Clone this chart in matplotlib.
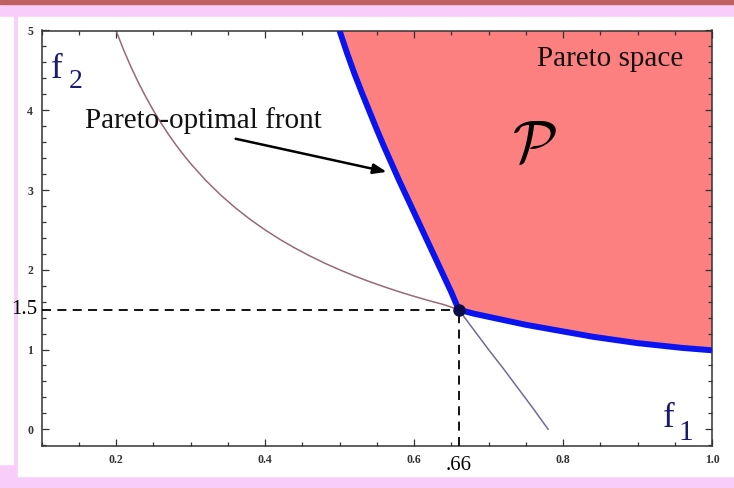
import numpy as np
import matplotlib.pyplot as plt
from matplotlib.patches import Rectangle
from matplotlib.ticker import MultipleLocator

# f1 / f2 trade-off curve (upper and lower branches)
curve_up_x = [0.20, 0.21, 0.22, 0.23, 0.24, 0.25, 0.26, 0.27, 0.28, 0.29, 0.30, 0.32, 0.34, 0.36,
              0.38, 0.40, 0.42, 0.44, 0.46, 0.48, 0.50, 0.52, 0.54, 0.56, 0.58, 0.60, 0.62, 0.64, 0.66]
curve_up_y = [5.000, 4.762, 4.545, 4.348, 4.167, 4.000, 3.846, 3.704, 3.571, 3.448, 3.333, 3.125,
              2.941, 2.778, 2.632, 2.500, 2.381, 2.273, 2.174, 2.083, 2.000, 1.923, 1.852, 1.786,
              1.724, 1.667, 1.613, 1.563, 1.500]
curve_lo_x = [0.660, 0.680, 0.700, 0.720, 0.740, 0.760, 0.780]
curve_lo_y = [1.50, 1.25, 1.00, 0.76, 0.51, 0.26, 0.00]

# Pareto-optimal front
front_x = [0.500, 0.510, 0.520, 0.530, 0.540, 0.550, 0.560, 0.570, 0.580, 0.590, 0.600, 0.610,
           0.620, 0.630, 0.640, 0.650, 0.660, 0.680, 0.700, 0.720, 0.750, 0.780, 0.810, 0.840,
           0.870, 0.900, 0.930, 0.960, 1.000]
front_y = [5.00, 4.72, 4.46, 4.22, 3.99, 3.76, 3.54, 3.33, 3.12, 2.92, 2.72, 2.52,
           2.32, 2.12, 1.92, 1.72, 1.50, 1.45, 1.41, 1.37, 1.31, 1.26, 1.21, 1.16,
           1.12, 1.08, 1.05, 1.02, 0.99]

opt_x, opt_y = 0.66, 1.5
xticks = [0.2, 0.4, 0.6, 0.8, 1.0]
yticks = [0, 1, 2, 3, 4, 5]

plt.rcParams['font.family'] = ['Liberation Serif', 'DejaVu Serif']
plt.rcParams['mathtext.fontset'] = 'cm'

fig = plt.figure(figsize=(7.34, 4.88), dpi=100)
fig.patch.set_facecolor('#f9cdf9')
W, H = 734, 488
def box(x0, y0, x1, y1, c):
    fig.patches.append(Rectangle((x0 / W, 1 - y1 / H), (x1 - x0) / W, (y1 - y0) / H,
                                 transform=fig.transFigure, color=c, zorder=-5))
box(0, 0, W, 4, '#c0605c')
box(18, 17, W, 476, 'white')
box(0, 17, 13, 464, 'white')

ax = fig.add_axes([41.5 / W, 1 - 446 / H, (712 - 41.5) / W, (446 - 30.5) / H])
ax.set_xlim(0.1, 1.0)
ax.set_ylim(-0.21, 5.0)

ax.fill(front_x + [1.0, 1.0, 0.5], front_y + [5.2, 5.2, 5.2], color='#fd8080', lw=0, zorder=1)
ax.plot(curve_up_x, curve_up_y, color='#9a6878', lw=1.1, zorder=2)
ax.plot(curve_lo_x, curve_lo_y, color='#6e6c98', lw=1.1, zorder=2)
ax.plot(front_x, front_y, color='#0a14f0', lw=4.3, solid_capstyle='butt', zorder=3)

ax.plot([0.1, opt_x], [opt_y, opt_y], color='black', lw=1.3, dashes=(5, 3.5), zorder=4)
ax.plot([opt_x, opt_x], [-0.21, opt_y], color='black', lw=1.3, dashes=(5, 3.5), zorder=4)
ax.plot([opt_x], [opt_y], 'o', color='#0c0c4a', ms=8, zorder=5)

ax.annotate('', xy=(0.567, 3.22), xytext=(0.357, 3.65),
            arrowprops=dict(arrowstyle='-|>,head_length=0.8,head_width=0.3', color='black', lw=1.8),
            zorder=6)
ax.text(0.158, 3.78, 'Pareto-optimal front', fontsize=21, color='#111111', va='baseline')
ax.text(0.765, 4.55, 'Pareto space', fontsize=21, color='#111111', va='baseline')
ax.text(0.731, 3.36, r'$\mathcal{P}$', fontsize=42, color='black', va='baseline')

ax.text(0.113, 4.40, 'f', fontsize=25, color='#1a1a70', va='baseline')
ax.text(0.136, 4.28, '2', fontsize=20, color='#1a1a70', va='baseline')
ax.text(0.934, 0.03, 'f', fontsize=25, color='#1a1a70', va='baseline')
ax.text(0.955, -0.14, '1', fontsize=21, color='#1a1a70', va='baseline')

ax.text(-0.006, opt_y, '1.5', fontsize=15, ha='right', va='center', transform=ax.get_yaxis_transform())
ax.text(opt_x, -0.025, '.66', fontsize=15, ha='center', va='top', transform=ax.get_xaxis_transform())

ax.set_xticks(xticks)
ax.set_yticks(yticks)
ax.set_xticklabels([f'{v:.1f}' for v in xticks])
ax.set_yticklabels([str(v) for v in yticks])
ax.xaxis.set_minor_locator(MultipleLocator(0.05))
ax.yaxis.set_minor_locator(MultipleLocator(0.2))
ax.tick_params(which='both', direction='in', top=True, right=True, color='#333333', width=0.9)
ax.tick_params(which='major', length=5, labelsize=8.5, pad=6)
ax.tick_params(which='minor', length=3)
for lbl in ax.get_xticklabels() + ax.get_yticklabels():
    lbl.set_fontweight('bold')
    lbl.set_color('#333333')
for s in ax.spines.values():
    s.set_color('#333333')
    s.set_linewidth(1.1)

fig.savefig('out.png', dpi=100, facecolor=fig.get_facecolor())
